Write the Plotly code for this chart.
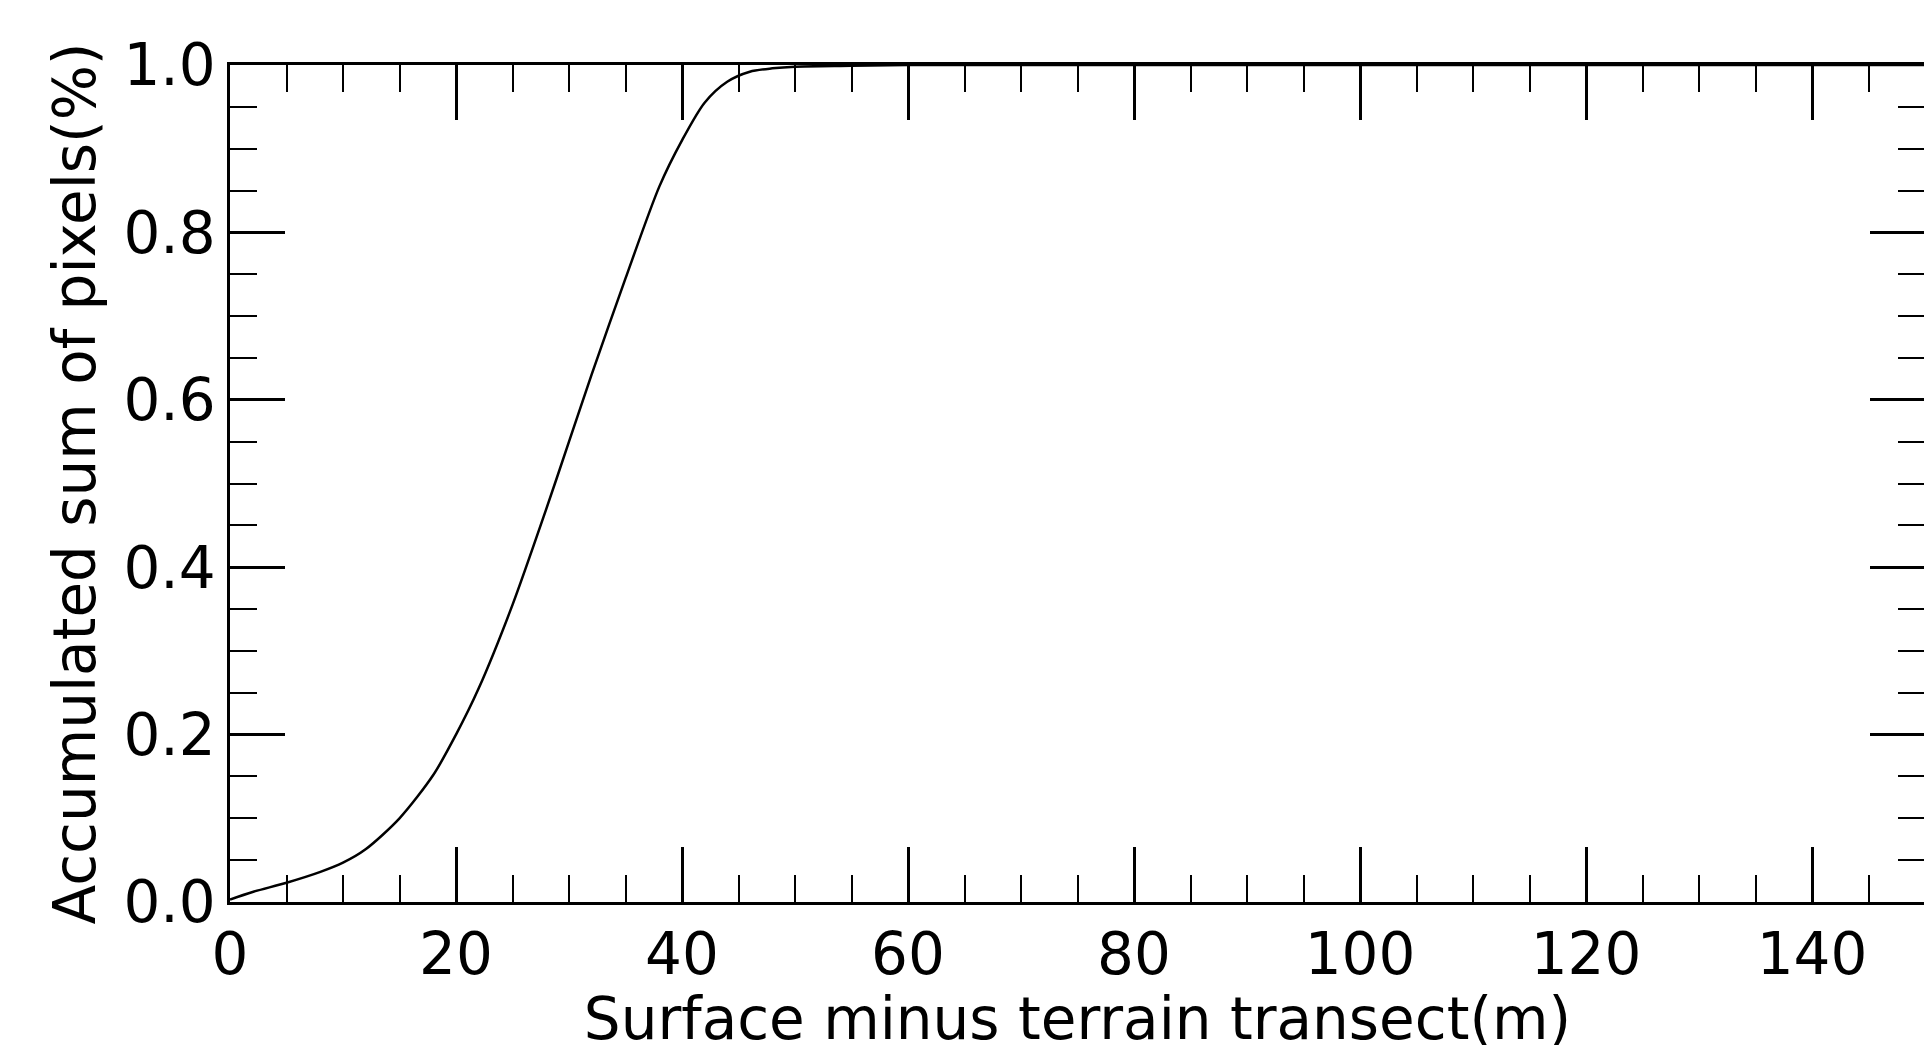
import plotly.graph_objects as go

height_m = [0, 2, 5, 8, 10, 12, 15, 18, 20, 22, 25, 28, 30, 32, 35, 38, 40, 42, 44, 46, 48, 50, 55, 60, 90, 150]
cum_frac = [0.003, 0.012, 0.023, 0.036, 0.047, 0.063, 0.1, 0.152, 0.2, 0.255, 0.355, 0.47, 0.55, 0.63, 0.745, 0.855, 0.91, 0.955, 0.98, 0.992, 0.996, 0.998, 0.999, 1.0, 1.0, 1.0]
x_ticks = [0, 20, 40, 60, 80, 100, 120, 140]
y_ticks = [0.0, 0.2, 0.4, 0.6, 0.8, 1.0]

fig = go.Figure(go.Scatter(x=height_m, y=cum_frac, mode="lines",
                           line=dict(color="black", width=2.5, shape="spline", smoothing=0.8)))
ax = dict(showline=True, linecolor="black", linewidth=2.5, mirror="ticks", ticks="inside",
          ticklen=55, tickwidth=2.5, tickcolor="black", showgrid=False, zeroline=False,
          tickfont=dict(size=58, color="black"))
fig.update_xaxes(**ax, range=[0, 150], tickvals=x_ticks, ticktext=[str(v) for v in x_ticks],
                 minor=dict(dtick=5, ticklen=27, tickwidth=2, tickcolor="black", ticks="inside"),
                 title=dict(text="Surface minus terrain transect(m)", font=dict(size=58, color="black"), standoff=0))
fig.update_yaxes(**ax, range=[0, 1], tickvals=y_ticks, ticktext=[f"{v:.1f}" for v in y_ticks],
                 minor=dict(dtick=0.05, ticklen=27, tickwidth=2, tickcolor="black", ticks="inside"),
                 title=dict(text="Accumulated sum of pixels(%)", font=dict(size=58, color="black"), standoff=10))
fig.update_layout(width=1932, height=1045, margin=dict(l=222, r=12, t=57, b=151),
                  plot_bgcolor="white", paper_bgcolor="white", showlegend=False,
                  font=dict(family="DejaVu Sans", color="black"))
fig.write_html("out.html")
